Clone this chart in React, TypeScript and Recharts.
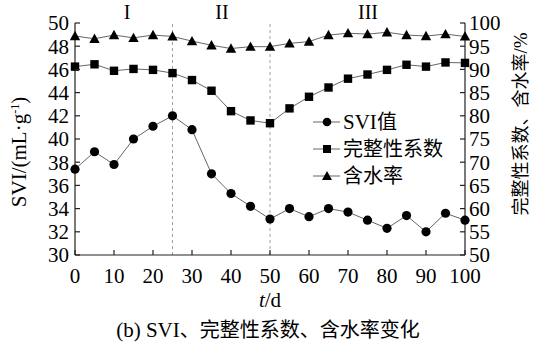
import React from "react";
import { LineChart, Line, XAxis, YAxis, ReferenceLine } from "recharts";

const days = [0, 5, 10, 15, 20, 25, 30, 35, 40, 45, 50, 55, 60, 65, 70, 75, 80, 85, 90, 95, 100];
const svi = [37.4, 38.9, 37.8, 40.0, 41.1, 42.0, 40.8, 37.0, 35.3, 34.2, 33.1, 34.0, 33.3, 34.0, 33.7, 33.0, 32.3, 33.4, 32.0, 33.6, 33.0];
const integrity = [90.6, 91.1, 89.7, 90.1, 89.9, 89.2, 87.7, 85.4, 81.0, 79.0, 78.4, 81.6, 84.1, 86.1, 88.0, 88.9, 89.9, 91.0, 90.6, 91.5, 91.4];
const water = [97.2, 96.6, 97.4, 96.8, 97.4, 97.1, 96.1, 95.2, 94.5, 94.9, 94.9, 95.6, 96.0, 97.4, 97.8, 97.6, 98.0, 97.4, 97.2, 97.6, 97.1];

const xTicks = [0, 10, 20, 30, 40, 50, 60, 70, 80, 90, 100];
const leftTicks = [30, 32, 34, 36, 38, 40, 42, 44, 46, 48, 50];
const rightTicks = [50, 55, 60, 65, 70, 75, 80, 85, 90, 95, 100];
const phaseLines = [25, 50];
// each legend name split into [latin part, CJK part]
const seriesNames: [string, string][] = [["SVI", "值"], ["", "完整性系数"], ["", "含水率"]];

const data = days.map((d, i) => ({ t: d, svi: svi[i], integrity: integrity[i], water: water[i] }));

const SERIF = "Liberation Serif, serif";
const CJK = "Noto Sans CJK SC, sans-serif";
const AX = "#222";
const LINE = "#666";

const LeftTick = (props: any) => {
  const { x, y, payload } = props;
  return (
    <g>
      <line x1={x} x2={x + 5} y1={y} y2={y} stroke={AX} strokeWidth={1.2} />
      <text x={x - 6} y={y} dy="0.35em" textAnchor="end" fontFamily={SERIF} fontSize={21} fill="#000">
        {payload.value}
      </text>
    </g>
  );
};

const RightTick = (props: any) => {
  const { x, y, payload } = props;
  return (
    <g>
      <line x1={x} x2={x - 5} y1={y} y2={y} stroke={AX} strokeWidth={1.2} />
      <text x={x + 4} y={y} dy="0.35em" textAnchor="start" fontFamily={SERIF} fontSize={21} fill="#000">
        {payload.value}
      </text>
    </g>
  );
};

const BottomTick = (props: any) => {
  const { x, y, payload } = props;
  return (
    <g>
      <line x1={x} x2={x} y1={y} y2={y - 5} stroke={AX} strokeWidth={1.2} />
      <text x={x} y={y + 28} textAnchor="middle" fontFamily={SERIF} fontSize={21} fill="#000">
        {payload.value}
      </text>
    </g>
  );
};

const CircleDot = (props: any) => {
  const { cx, cy, index } = props;
  return <circle key={`c${index}`} cx={cx} cy={cy} r={4.6} fill="#000" />;
};
const SquareDot = (props: any) => {
  const { cx, cy, index } = props;
  return <rect key={`s${index}`} x={cx - 4.2} y={cy - 4.2} width={8.4} height={8.4} fill="#000" />;
};
const TriDot = (props: any) => {
  const { cx, cy, index } = props;
  const s = 5.2;
  return (
    <polygon
      key={`t${index}`}
      points={`${cx},${cy - s} ${cx - s},${cy + s * 0.8} ${cx + s},${cy + s * 0.8}`}
      fill="#000"
    />
  );
};

const markerFor = (i: number, cx: number, cy: number) => {
  if (i === 0) return <circle cx={cx} cy={cy} r={4.3} fill="#000" />;
  if (i === 1) return <rect x={cx - 4} y={cy - 4} width={8} height={8} fill="#000" />;
  const s = 5;
  return <polygon points={`${cx},${cy - s} ${cx - s},${cy + s * 0.8} ${cx + s},${cy + s * 0.8}`} fill="#000" />;
};

export default function App() {
  return (
    <div style={{ position: "absolute", left: 0, top: 0, width: 538, height: 345, background: "#fff" }}>
      <LineChart width={538} height={345} data={data} margin={{ top: 23, right: 28, bottom: 60, left: 30 }}>
        <XAxis
          dataKey="t"
          type="number"
          domain={[0, 100]}
          ticks={xTicks}
          interval={0}
          height={30}
          tickSize={0}
          tickMargin={0}
          tickLine={false}
          tick={<BottomTick />}
          axisLine={{ stroke: AX, strokeWidth: 1.2 }}
        />
        <YAxis
          yAxisId="left"
          orientation="left"
          domain={[30, 50]}
          ticks={leftTicks}
          interval={0}
          width={45}
          tickSize={0}
          tickMargin={0}
          tickLine={false}
          tick={<LeftTick />}
          axisLine={{ stroke: AX, strokeWidth: 1.2 }}
        />
        <YAxis
          yAxisId="right"
          orientation="right"
          domain={[50, 100]}
          ticks={rightTicks}
          interval={0}
          width={45}
          tickSize={0}
          tickMargin={0}
          tickLine={false}
          tick={<RightTick />}
          axisLine={{ stroke: AX, strokeWidth: 1.2 }}
        />
        {phaseLines.map((v) => (
          <ReferenceLine key={v} x={v} yAxisId="left" stroke="#888" strokeWidth={0.8} strokeDasharray="3 3" />
        ))}
        <Line
          yAxisId="left"
          type="linear"
          dataKey="svi"
          stroke={LINE}
          strokeWidth={1}
          dot={<CircleDot />}
          isAnimationActive={false}
        />
        <Line
          yAxisId="right"
          type="linear"
          dataKey="integrity"
          stroke={LINE}
          strokeWidth={1}
          dot={<SquareDot />}
          isAnimationActive={false}
        />
        <Line
          yAxisId="right"
          type="linear"
          dataKey="water"
          stroke={LINE}
          strokeWidth={1}
          dot={<TriDot />}
          isAnimationActive={false}
        />
      </LineChart>
      <svg
        width={538}
        height={345}
        style={{ position: "absolute", left: 0, top: 0, pointerEvents: "none" }}
      >
        <g transform="translate(310,106)">
          {seriesNames.map(([lat, han], i) => {
            const cy = 16 + i * 27;
            return (
              <g key={han}>
                <line x1={3} x2={30} y1={cy} y2={cy} stroke={LINE} strokeWidth={1} />
                {markerFor(i, 17, cy)}
                {lat ? (
                  <text x={33} y={cy} dy="0.34em" fontSize={21} fontFamily={SERIF} fill="#000">
                    {lat}
                  </text>
                ) : null}
                <text x={lat ? 67 : 33} y={cy} dy="0.36em" fontSize={20} fontFamily={CJK} fill="#000">
                  {han}
                </text>
              </g>
            );
          })}
        </g>
        <g fill="#000">
          <text x={127} y={19} textAnchor="middle" fontSize={20} fontFamily={SERIF}>I</text>
          <text x={222} y={19} textAnchor="middle" fontSize={20} fontFamily={SERIF}>II</text>
          <text x={368} y={19} textAnchor="middle" fontSize={20} fontFamily={SERIF}>III</text>
          <text transform="translate(26,152) rotate(-90)" textAnchor="middle" fontSize={21} fontFamily={SERIF}>
            SVI/(mL·g<tspan dy={-7} fontSize={12}>-1</tspan><tspan dy={7}>)</tspan>
          </text>
          <text transform="translate(527,124) rotate(-90)" textAnchor="middle" fontSize={18} fontFamily={CJK}>
            完整性系数、含水率<tspan fontFamily={SERIF} fontSize={19}>/%</tspan>
          </text>
          <text x={270} y={307} textAnchor="middle" fontSize={21} fontFamily={SERIF}>
            <tspan fontStyle="italic">t</tspan>/d
          </text>
          <text x={268} y={337} textAnchor="middle" fontSize={20}>
            <tspan fontFamily={SERIF} fontSize={21}>(b) SVI</tspan>
            <tspan fontFamily={CJK}>、完整性系数、含水率变化</tspan>
          </text>
        </g>
      </svg>
    </div>
  );
}
